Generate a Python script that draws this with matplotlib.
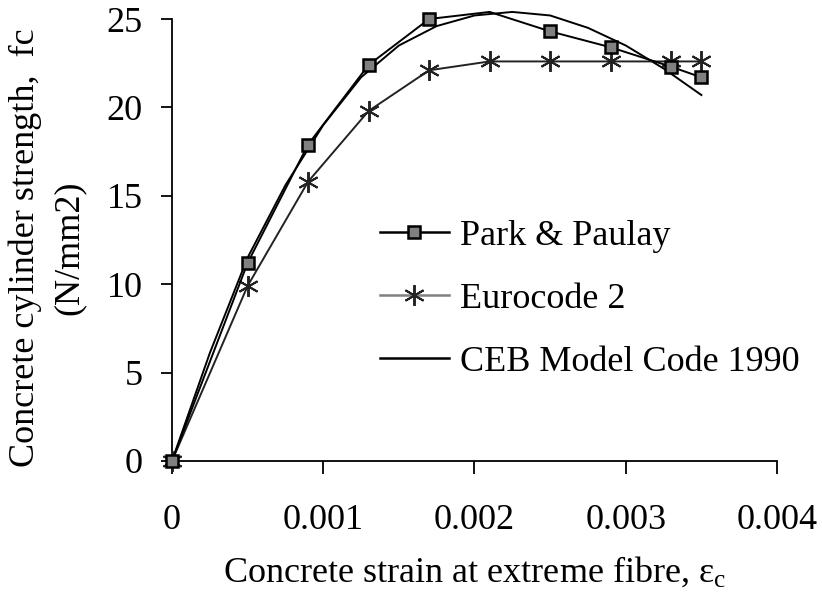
import matplotlib
matplotlib.use('Agg')
import matplotlib.pyplot as plt
from matplotlib.lines import Line2D

plt.rcParams['font.family'] = ['Liberation Serif', 'DejaVu Serif']
plt.rcParams['mathtext.fontset'] = 'custom'
plt.rcParams['mathtext.rm'] = 'Liberation Serif'
plt.rcParams['mathtext.it'] = 'Liberation Serif:italic'

# stress-strain curves for concrete in compression
strain = [0, 0.0005, 0.0009, 0.0013, 0.0017, 0.0021, 0.0025, 0.0029, 0.0033, 0.0035]
fc_park = [0, 11.2, 17.9, 22.4, 25.0, 25.4, 24.3, 23.4, 22.3, 21.7]
fc_ec2 = [0, 9.9, 15.8, 19.8, 22.1, 22.6, 22.6, 22.6, 22.6, 22.6]
park_marked = [0, 1, 2, 3, 4, 6, 7, 8, 9]

strain_ceb = [0, 0.00025, 0.0005, 0.00075, 0.001, 0.00125, 0.0015, 0.00175,
              0.002, 0.00225, 0.0025, 0.00275, 0.003, 0.00325, 0.0035]
fc_ceb = [0, 6.1, 11.5, 15.6, 19.0, 21.7, 23.5, 24.6, 25.2, 25.4, 25.2, 24.5,
          23.5, 22.2, 20.7]

xticks = [0, 0.001, 0.002, 0.003, 0.004]
xticklabels = ['0', '0.001', '0.002', '0.003', '0.004']
yticks = [0, 5, 10, 15, 20, 25]

labels = ['Park & Paulay', 'Eurocode 2', 'CEB Model Code 1990']

fig = plt.figure(figsize=(8.22, 5.92), dpi=100)
ax = fig.add_axes([0.2092, 0.2213, 0.7361, 0.7466])

ax.plot(strain_ceb, fc_ceb, color='black', lw=1.4, clip_on=False)
ax.plot(strain, fc_ec2, color='#222222', lw=1.4, marker=(6, 2, 0), ms=15,
        mew=1.4, mec='#222222', clip_on=False, zorder=3)
ax.plot(strain, fc_park, color='black', lw=1.4, marker='s', ms=8.5,
        mfc='#808080', mec='black', mew=1.8, markevery=park_marked,
        clip_on=False, zorder=4)

ax.set_xlim(0, 0.004)
ax.set_ylim(0, 25)
ax.set_xticks(xticks)
ax.set_xticklabels(xticklabels)
ax.set_yticks(yticks)

for side in ['top', 'right']:
    ax.spines[side].set_visible(False)
for side in ['left', 'bottom']:
    ax.spines[side].set_linewidth(1.3)

ax.tick_params(axis='x', direction='out', length=9, width=1.3, pad=22,
               labelsize=26)
ax.tick_params(axis='y', direction='out', length=8, width=1.3, pad=13,
               labelsize=26)

ax.set_xlabel('Concrete strain at extreme fibre, ε$_\\mathrm{c}$',
              fontsize=26, labelpad=13)
ax.set_ylabel('Concrete cylinder strength,  fc\n(N/mm2)', fontsize=26,
              multialignment='center', linespacing=1.4)
ax.yaxis.set_label_coords(-0.143, 0.482)

handles = [
    Line2D([], [], color='black', lw=1.8, marker='s', ms=8.5,
           mfc='#808080', mec='black', mew=1.8),
    Line2D([], [], color='#808080', lw=1.8, marker=(6, 2, 0), ms=15,
           mew=1.4, mec='#222222'),
    Line2D([], [], color='black', lw=1.8),
]
ax.legend(handles, labels, loc='upper left', bbox_to_anchor=(0.344, 0.547),
          frameon=False, fontsize=26, handlelength=1.9, handletextpad=0.3,
          labelspacing=0.83, borderpad=0, borderaxespad=0)

fig.savefig('out.png', dpi=100)
